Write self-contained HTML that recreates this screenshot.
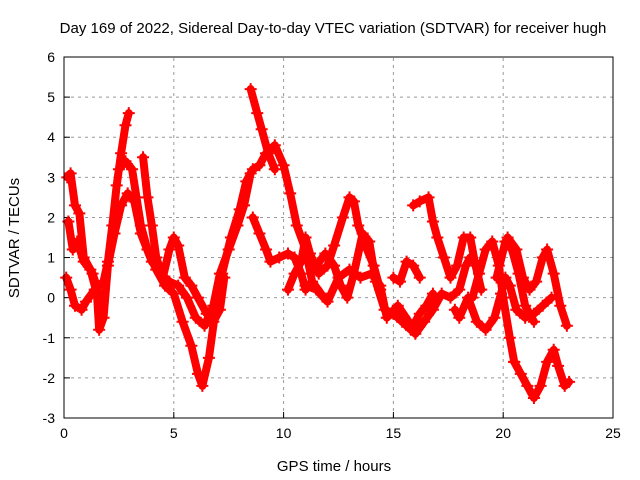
<!DOCTYPE html>
<html><head><meta charset="utf-8"><style>
body{margin:0;background:#fff}
svg{display:block;font-family:"Liberation Sans",sans-serif}
</style></head><body>
<svg id="c" width="640" height="480">
<text x="333" y="33" font-size="15" text-anchor="middle">Day 169 of 2022, Sidereal Day-to-day VTEC variation (SDTVAR) for receiver hugh</text>
<text x="334" y="471" font-size="15" text-anchor="middle">GPS time / hours</text>
<text transform="translate(19,238) rotate(-90)" font-size="15" text-anchor="middle">SDTVAR / TECUs</text>
<g id="grid"></g><g id="marks"></g>
<rect x="64" y="57" width="549" height="361" fill="none" stroke="#000"/>
</svg>
<script>
const xTicks=[0,5,10,15,20,25];
const yTicks=[-3,-2,-1,0,1,2,3,4,5,6];
const tracks=[
[[0.1,0.5],[0.3,0.2],[0.5,-0.2],[0.8,-0.3],[1.0,-0.1],[1.4,0.2],[1.8,0.4],[2.0,0.9],[2.2,1.8],[2.4,2.8],[2.6,3.6],[2.8,4.3],[2.95,4.6]],
[[0.2,1.9],[0.4,1.2],[0.6,1.4],[0.9,0.9],[1.2,0.7],[1.5,0.1],[1.6,-0.8],[1.8,-0.5],[2.0,0.8],[2.3,1.6],[2.6,2.3],[2.9,2.6],[3.2,2.4],[3.5,1.6],[4.0,0.9],[4.4,0.6],[4.8,0.4],[5.2,0.3],[5.6,0.0],[6.0,-0.5],[6.4,-0.7],[6.8,-0.2],[7.1,0.6],[7.5,1.2],[7.9,1.8],[8.2,2.3],[8.5,3.1]],
[[0.15,3.0],[0.3,3.1],[0.5,2.3],[0.7,2.1],[0.9,1.0],[1.3,0.6],[1.6,0.1]],
[[2.5,3.2],[2.8,3.4],[3.1,3.2],[3.3,2.5],[3.5,1.8],[3.8,1.2],[4.2,0.7],[4.6,0.3],[5.0,0.1],[5.4,-0.6],[5.8,-1.2],[6.1,-1.9],[6.3,-2.2],[6.6,-1.5],[6.9,-0.3],[7.2,0.6],[7.6,1.5],[8.0,2.2],[8.3,2.9],[8.6,3.2],[8.9,3.3],[9.2,3.6],[9.6,3.8],[10.0,3.3],[10.3,2.6],[10.6,1.8],[11.0,1.2],[11.3,0.4],[11.7,0.1]],
[[3.6,3.5],[3.8,2.5],[4.0,1.8],[4.2,1.0],[4.5,0.5],[4.8,1.2],[5.0,1.5],[5.2,1.3],[5.5,0.5],[5.8,0.3],[6.1,0.0],[6.5,-0.4],[6.8,-0.6],[7.1,-0.3],[7.3,0.5]],
[[8.5,5.2],[8.8,4.6],[9.0,4.2],[9.3,3.6],[9.6,3.2]],
[[8.6,2.0],[8.9,1.6],[9.2,1.2],[9.4,0.9],[9.8,1.0],[10.2,1.1],[10.5,1.0],[10.8,0.6],[11.0,0.2]],
[[10.2,0.2],[10.5,0.6],[10.8,0.9],[11.0,1.5],[11.2,1.1],[11.6,0.6],[12.0,0.8],[12.3,1.3],[12.7,2.0],[13.0,2.5],[13.2,2.4],[13.4,1.8],[13.8,1.2],[14.1,0.8],[14.4,0.2]],
[[11.5,0.8],[11.9,1.1],[12.3,0.8],[12.6,0.3],[12.9,0.0],[13.2,0.6],[13.6,1.6],[13.9,1.4],[14.2,0.4],[14.6,-0.3],[15.0,-0.4],[15.4,-0.6],[15.8,-0.8],[16.2,-0.4],[16.5,-0.2],[16.8,0.1]],
[[11.0,0.3],[11.5,0.2],[12.0,-0.1],[12.5,0.5],[13.0,0.7],[13.5,0.5],[14.0,0.6],[14.4,0.3],[14.7,-0.5],[15.2,-0.2],[15.7,-0.6],[16.0,-0.9],[16.4,-0.6],[16.8,-0.3],[17.2,0.1],[17.6,0.0],[18.0,0.2],[18.3,0.8],[18.5,1.0]],
[[15.9,2.3],[16.2,2.4],[16.6,2.5],[16.8,1.9],[17.0,1.5],[17.3,1.0],[17.6,0.5],[17.9,0.8],[18.2,1.5],[18.5,1.5],[18.7,0.9],[19.0,0.2]],
[[15.0,0.5],[15.3,0.4],[15.6,0.9],[15.9,0.8],[16.2,0.5]],
[[17.8,-0.3],[18.0,-0.5],[18.4,0.0],[18.8,-0.6],[19.2,-0.8],[19.6,-0.5],[19.9,0.1],[20.1,0.5],[20.3,0.3],[20.6,-0.3],[21.0,-0.5],[21.4,-0.4],[21.8,-0.2],[22.2,0.0]],
[[18.6,0.0],[18.9,0.6],[19.2,1.2],[19.5,1.4],[19.8,0.8],[20.0,0.0],[20.3,-1.0],[20.5,-1.6]],
[[20.2,1.5],[20.6,1.2],[20.9,0.5],[21.2,0.2],[21.5,0.4],[21.8,1.0],[22.0,1.2],[22.3,0.6],[22.6,-0.2],[22.9,-0.7]],
[[20.5,-1.6],[20.8,-1.9],[21.1,-2.2],[21.4,-2.5],[21.7,-2.2],[22.0,-1.6],[22.3,-1.3],[22.5,-1.7],[22.8,-2.2],[23.0,-2.1]],
[[19.7,0.5],[20.1,1.4],[20.4,1.2],[20.7,0.6],[21.0,-0.2],[21.4,-0.6]]
];
const NS="http://www.w3.org/2000/svg";
const X0=64,X1=613,Y0=418,Y1=57;
function sx(t){return X0+(t-0)/(25-0)*(X1-X0);}
function sy(v){return Y0-(v+3)/(6+3)*(Y0-Y1);}
const grid=document.getElementById('grid'),marks=document.getElementById('marks'),svg=document.getElementById('c');
function mk(tag,attrs,parent){const e=document.createElementNS(NS,tag);for(const k in attrs)e.setAttribute(k,attrs[k]);parent.appendChild(e);return e;}
xTicks.forEach(t=>{const x=sx(t);
 if(t>0&&t<25){const g=mk('line',{x1:x,x2:x,y1:Y0,y2:Y1,stroke:'#999','stroke-dasharray':'3,4'},grid);
 
 }
 mk('line',{x1:x,x2:x,y1:Y0,y2:Y0-6,stroke:'#000'},grid);
 const l=mk('text',{x:x,y:Y0+20,'font-size':14,'text-anchor':'middle'},svg);l.textContent=t;
 
 
});
yTicks.forEach(v=>{const y=sy(v);
 if(v>-3&&v<6){const g=mk('line',{x1:X0,x2:X1,y1:y,y2:y,stroke:'#999','stroke-dasharray':'3,4'},grid);
 
 }
 mk('line',{x1:X0,x2:X0+6,y1:y,y2:y,stroke:'#000'},grid);
 const l=mk('text',{x:X0-9,y:y+5,'font-size':14,'text-anchor':'end'},svg);l.textContent=v;
 
 
});
tracks.forEach((tr,i)=>{
 const pl=mk('polyline',{points:tr.map(p=>sx(p[0])+','+sy(p[1])).join(' '),fill:'none',stroke:'#f00','stroke-width':8,'stroke-linejoin':'round','stroke-linecap':'round'},marks);
 
 
 tr.forEach(p=>{const x=sx(p[0]),y=sy(p[1]);
  const m=mk('path',{d:`M${x-6},${y}H${x+6}M${x},${y-6}V${y+6}`,stroke:'#f00','stroke-width':2},marks);
  
  
 });
});
</script>
</body></html>
